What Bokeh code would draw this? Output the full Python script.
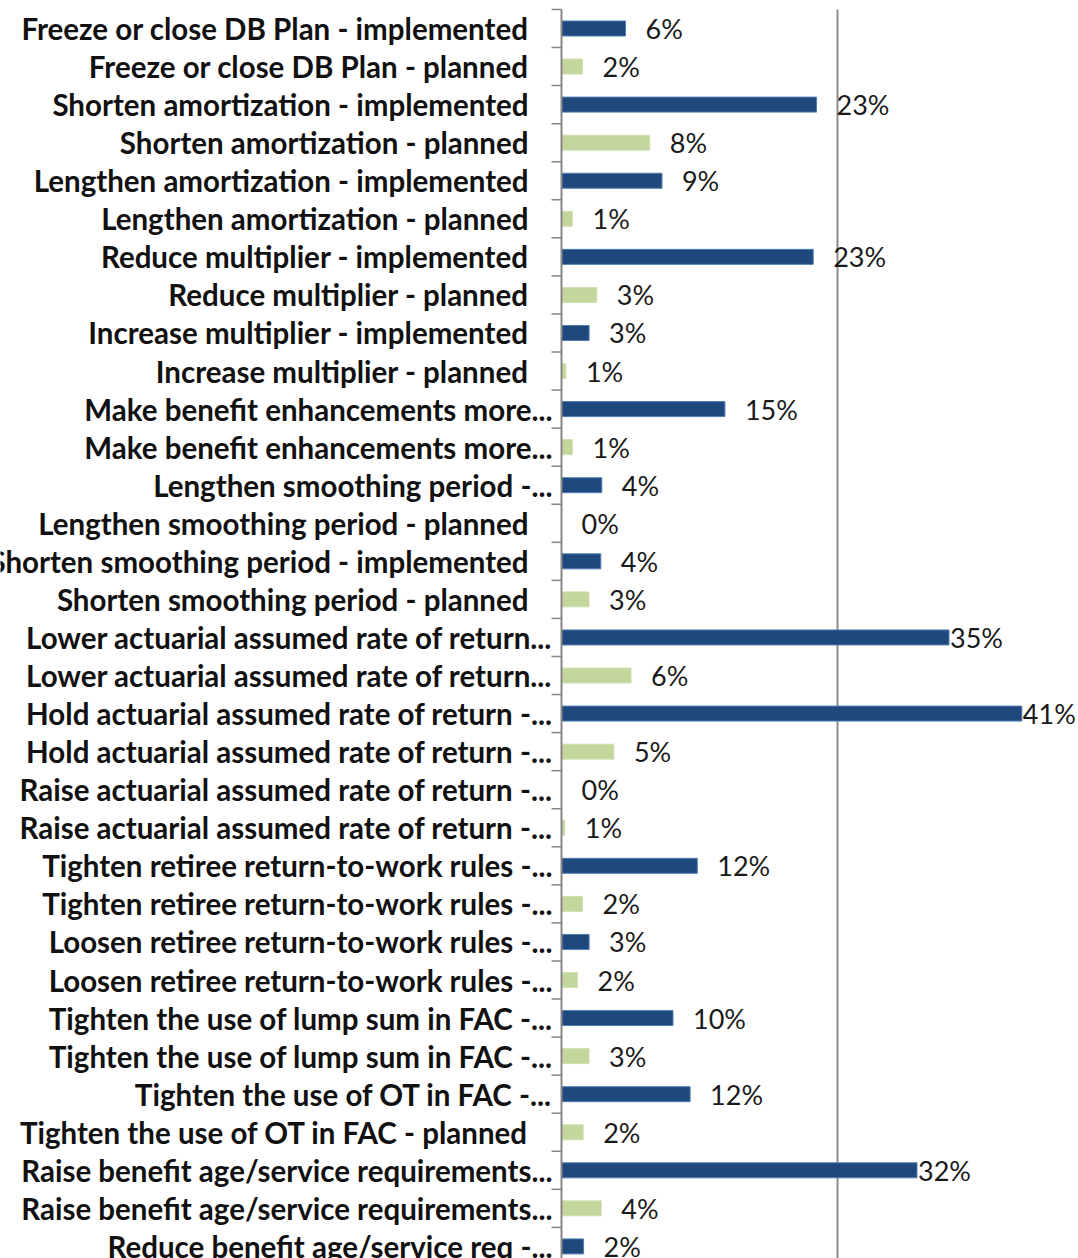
import numpy as np
from bokeh.plotting import figure
from bokeh.models import Range1d, ColumnDataSource
from bokeh.core.properties import value
from bokeh.embed import file_html
from bokeh.resources import INLINE

# ---- data ----
labels = [
    "Freeze or close DB Plan - implemented",
    "Freeze or close DB Plan - planned",
    "Shorten amortization - implemented",
    "Shorten amortization - planned",
    "Lengthen amortization - implemented",
    "Lengthen amortization - planned",
    "Reduce multiplier - implemented",
    "Reduce multiplier - planned",
    "Increase multiplier - implemented",
    "Increase multiplier - planned",
    "Make benefit enhancements more...",
    "Make benefit enhancements more...",
    "Lengthen smoothing period -...",
    "Lengthen smoothing period - planned",
    "Shorten smoothing period - implemented",
    "Shorten smoothing period - planned",
    "Lower actuarial assumed rate of return...",
    "Lower actuarial assumed rate of return...",
    "Hold actuarial assumed rate of return -...",
    "Hold actuarial assumed rate of return -...",
    "Raise actuarial assumed rate of return -...",
    "Raise actuarial assumed rate of return -...",
    "Tighten retiree return-to-work rules -...",
    "Tighten retiree return-to-work rules -...",
    "Loosen retiree return-to-work rules -...",
    "Loosen retiree return-to-work rules -...",
    "Tighten the use of lump sum in FAC -...",
    "Tighten the use of lump sum in FAC -...",
    "Tighten the use of OT in FAC -...",
    "Tighten the use of OT in FAC - planned",
    "Raise benefit age/service requirements...",
    "Raise benefit age/service requirements...",
    "Reduce benefit age/service req -...",
]
status = ["implemented", "planned"] * 16 + ["implemented"]
values = [5.8, 1.9, 23.1, 8.0, 9.1, 1.0, 22.8, 3.2, 2.5, 0.4,
          14.8, 1.0, 3.65, 0.0, 3.56, 2.5, 35.1, 6.3, 41.7, 4.75,
          0.0, 0.3, 12.3, 1.9, 2.5, 1.45, 10.1, 2.5, 11.65, 1.96,
          32.2, 3.6, 2.0]
pct_labels = ["6%", "2%", "23%", "8%", "9%", "1%", "23%", "3%", "3%", "1%",
              "15%", "1%", "4%", "0%", "4%", "3%", "35%", "6%", "41%", "5%",
              "0%", "1%", "12%", "2%", "3%", "2%", "10%", "3%", "12%", "2%",
              "32%", "4%", "2%"]
gridline_at = 25

# ---- layout ----
W, H = 1078, 1258
AXIS_PX = 561          # pixel position of the 0% axis
PX_PER_PCT = 11.04
ROW0_PX = 28
ROW_PX = 38.06

x_start = -AXIS_PX / PX_PER_PCT
x_end = (W - AXIS_PX) / PX_PER_PCT
y_top = -ROW0_PX / ROW_PX
y_bottom = (H - ROW0_PX) / ROW_PX

colors = {"implemented": "#1F497D", "planned": "#C3D69B"}
edge = {"implemented": "#4F7CB0", "planned": "#D2E0B4"}

rows = list(range(len(labels)))
src = ColumnDataSource(dict(
    y=rows,
    v=values,
    lab=labels,
    pct=pct_labels,
    fill=[colors[s] for s in status],
    line=[edge[s] for s in status],
    lab_off=[-9 if l.endswith("...") else -33 for l in labels],
    val_off=[1 if v > 30 else 20 for v in values],
))

p = figure(width=W, height=H, output_backend="svg", toolbar_location=None,
           x_range=Range1d(x_start, x_end), y_range=Range1d(y_bottom, y_top),
           x_axis_type=None, y_axis_type=None, min_border=0,
           background_fill_color="white", border_fill_color="white")
p.outline_line_color = None
p.xgrid.visible = False
p.ygrid.visible = False

# gridline at 25%
p.segment(x0=[gridline_at], y0=[-0.5], x1=[gridline_at], y1=[y_bottom + 1],
          line_color="#8C8C8C", line_width=2)

# bars
p.hbar(y="y", left=0, right="v", height=0.394, source=src,
       fill_color="fill", line_color="line", line_width=1)

# axis line and boundary ticks
p.segment(x0=[0], y0=[-0.5], x1=[0], y1=[y_bottom + 1],
          line_color="#868686", line_width=2)
bounds = [r - 0.5 for r in rows] + [rows[-1] + 0.5]
p.ray(x=[0] * len(bounds), y=bounds, length=10, length_units="screen",
      angle=np.pi, line_color="#868686", line_width=1.5)

# category labels
p.text(x=0, y="y", text="lab", x_offset="lab_off", source=src,
       text_align="right", text_baseline="middle",
       text_font=value("Lato"), text_font_style="bold",
       text_font_size="29.5px", text_color="#111111")

# value labels
p.text(x="v", y="y", text="pct", x_offset="val_off", source=src,
       text_align="left", text_baseline="middle",
       text_font=value("Lato"), text_font_size="27px", text_color="#1a1a1a")

open("out.html", "w").write(file_html(p, INLINE))
